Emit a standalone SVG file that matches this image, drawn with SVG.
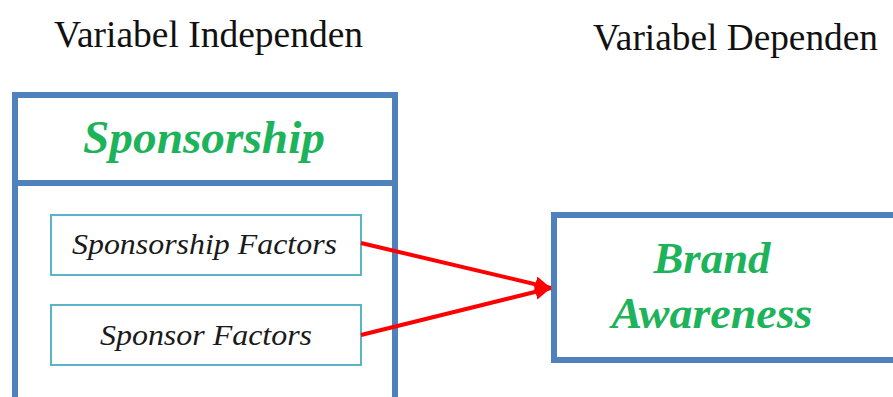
<svg xmlns="http://www.w3.org/2000/svg" width="893" height="397" viewBox="0 0 893 397">
<style>
.lbl{fill:#111;}
.title{font-weight:bold;font-style:italic;fill:#1db35b;}
.item{font-style:italic;fill:#1a1a1a;}
.big{fill:none;stroke:#4f81bd;stroke-width:6;}
.small{fill:#fff;stroke:#4bacc6;stroke-width:1.8;}
.conn{stroke:#ff0000;stroke-width:4;fill:none;}
</style>
<defs>
<marker id="arr" markerUnits="userSpaceOnUse" markerWidth="20" markerHeight="20" refX="16" refY="8" orient="auto">
<path d="M0,0 L16,8 L0,16 Z" fill="#ff0000"/>
</marker>
</defs>
<rect width="893" height="397" fill="#fff"/>
<text class="lbl" font-family="Liberation Serif, serif" x="54" y="47" font-size="37" textLength="309" lengthAdjust="spacingAndGlyphs">Variabel Independen</text>
<text class="lbl" font-family="Liberation Serif, serif" x="593" y="50" font-size="37" textLength="285" lengthAdjust="spacingAndGlyphs">Variabel Dependen</text>
<g id="sponsorship">
<path class="big" d="M15,400 L15,95 L395,95 L395,400 M15,183 L395,183"/>
<text class="title" font-family="Liberation Serif, serif" x="204" y="153" font-size="47" text-anchor="middle" textLength="242" lengthAdjust="spacingAndGlyphs">Sponsorship</text>
</g>
<g id="sponsorship-factors">
<rect class="small" x="51" y="215" width="310" height="60"/>
<text class="item" font-family="Liberation Serif, serif" x="204.5" y="253.5" font-size="30" text-anchor="middle" textLength="265" lengthAdjust="spacingAndGlyphs">Sponsorship Factors</text>
</g>
<g id="sponsor-factors">
<rect class="small" x="51" y="305" width="310" height="60"/>
<text class="item" font-family="Liberation Serif, serif" x="206" y="345" font-size="30" text-anchor="middle" textLength="212" lengthAdjust="spacingAndGlyphs">Sponsor Factors</text>
</g>
<g id="brand-awareness">
<path class="big" d="M900,215 L554,215 L554,360 L900,360"/>
<text class="title" font-family="Liberation Serif, serif" x="712" y="272.5" font-size="45" text-anchor="middle" textLength="117" lengthAdjust="spacingAndGlyphs">Brand</text>
<text class="title" font-family="Liberation Serif, serif" x="712" y="327.5" font-size="45" text-anchor="middle" textLength="201" lengthAdjust="spacingAndGlyphs">Awareness</text>
</g>
<g id="connectors">
<line class="conn" x1="361" y1="243" x2="551" y2="288" marker-end="url(#arr)"/>
<line class="conn" x1="361" y1="335" x2="551" y2="288" marker-end="url(#arr)"/>
</g>
</svg>
